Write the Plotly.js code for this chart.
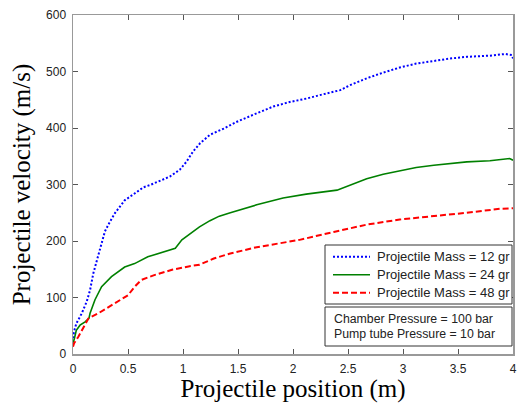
<!DOCTYPE html>
<html>
<head>
<meta charset="utf-8">
<script src="https://cdn.plot.ly/plotly-3.0.1.min.js"></script>
<style>
html,body{margin:0;padding:0;background:#fff;}
#chart{width:517px;height:403px;}
</style>
</head>
<body>
<div id="chart"></div>
<script>
// Data
const seriesNames = ["Projectile Mass = 12 gr", "Projectile Mass = 24 gr", "Projectile Mass = 48 gr"];
const seriesColors = ["#0000ff", "#008000", "#ff0000"];
const seriesDash = ["2px,2px", "solid", "6px,3px"];

const xBlue = [0, 0.01, 0.03, 0.08, 0.125, 0.155, 0.185, 0.23, 0.26, 0.29, 0.33, 0.38, 0.47, 0.52, 0.56, 0.64, 0.70, 0.88, 0.97, 1.03, 1.09, 1.155, 1.245, 1.37, 1.49, 1.67, 1.82, 1.97, 2.12, 2.28, 2.43, 2.52, 2.67, 2.82, 2.97, 3.12, 3.28, 3.43, 3.58, 3.79, 3.93, 3.99, 4.0];
const yBlue = [28, 40, 54, 72, 93, 113, 143, 175, 200, 217, 232, 249, 272, 278, 284, 295, 299, 314, 326, 340, 358, 373, 388, 399, 411, 426, 438, 446, 452, 460, 467, 476, 488, 498, 507, 514, 519, 523, 526, 528, 531, 529, 523];

const xGreen = [0, 0.01, 0.03, 0.064, 0.11, 0.145, 0.155, 0.2, 0.26, 0.35, 0.47, 0.56, 0.68, 0.84, 0.93, 0.99, 1.06, 1.15, 1.245, 1.33, 1.43, 1.67, 1.91, 2.12, 2.40, 2.52, 2.61, 2.67, 2.82, 2.97, 3.12, 3.28, 3.43, 3.58, 3.79, 3.97, 4.0];
const yGreen = [20, 25, 42, 51, 57, 63, 72, 96, 119, 137, 154, 160, 172, 182, 187, 202, 212, 225, 236, 244, 250, 264, 276, 283, 290, 299, 305, 310, 318, 324, 330, 334, 337, 340, 342, 346, 343];

const xRed = [0, 0.01, 0.05, 0.094, 0.14, 0.23, 0.32, 0.44, 0.50, 0.56, 0.62, 0.745, 0.90, 1.05, 1.15, 1.28, 1.43, 1.67, 1.91, 2.06, 2.37, 2.61, 2.67, 2.97, 3.28, 3.58, 3.88, 4.0];
const yRed = [13, 19, 31, 48, 63, 72, 83, 98, 104, 119, 131, 140, 149, 155, 158, 169, 178, 189, 197, 202, 216, 226, 229, 238, 244, 250, 257, 258];

const xTicks = [0, 0.5, 1, 1.5, 2, 2.5, 3, 3.5, 4];
const xTickLabels = ["0", "0.5", "1", "1.5", "2", "2.5", "3", "3.5", "4"];
const yTicks = [0, 100, 200, 300, 400, 500, 600];
const yTickLabels = ["0", "100", "200", "300", "400", "500", "600"];

const noteLines = ["Chamber Pressure = 100 bar", "Pump tube Pressure = 10 bar"];

const xs = [xBlue, xGreen, xRed];
const ys = [yBlue, yGreen, yRed];
const traces = seriesNames.map((n, i) => ({
  x: xs[i], y: ys[i], name: n, mode: "lines", showlegend: false,
  line: {color: seriesColors[i], width: i === 1 ? 1.6 : 2, dash: seriesDash[i]}
}));

// plot area in pixels: left 73, right 513, top 15, bottom 354
const PX0 = 73, PW = 440, PY1 = 354, PH = 339;
const px = v => (v - PX0) / PW;
const py = v => (PY1 - v) / PH;

const sansFont = "Liberation Sans, Arial, sans-serif";
const serifFont = "Liberation Serif, Times New Roman, serif";
const shapes = [];
const annotations = [];

// legend box
shapes.push({type: "rect", xref: "paper", yref: "paper", x0: px(325), x1: px(512), y0: py(304), y1: py(245),
  line: {color: "#333333", width: 1}, fillcolor: "#ffffff", layer: "above"});
const rowY = [256.7, 274.8, 292.7];
seriesNames.forEach((n, i) => {
  shapes.push({type: "line", xref: "paper", yref: "paper", x0: px(333), x1: px(370), y0: py(rowY[i]), y1: py(rowY[i]),
    line: {color: seriesColors[i], width: i === 1 ? 1.6 : 2, dash: seriesDash[i]}, layer: "above"});
  annotations.push({xref: "paper", yref: "paper", x: px(375), y: py(rowY[i]), xanchor: "left", yanchor: "middle",
    showarrow: false, text: n, font: {family: sansFont, size: 13, color: "#222222"}});
});

// note box
shapes.push({type: "rect", xref: "paper", yref: "paper", x0: px(325), x1: px(512), y0: py(346), y1: py(307),
  line: {color: "#333333", width: 1}, fillcolor: "#ffffff", layer: "above"});
const noteY = [318.5, 333.5];
noteLines.forEach((t, i) => {
  annotations.push({xref: "paper", yref: "paper", x: px(332), y: py(noteY[i]), xanchor: "left", yanchor: "middle",
    showarrow: false, text: t, font: {family: sansFont, size: 12.3, color: "#222222"}});
});

const axisCommon = {
  showgrid: false, zeroline: false,
  showline: true, linecolor: "#999999", linewidth: 1.5, mirror: "ticks",
  ticks: "inside", ticklen: 5, tickcolor: "#555555", tickwidth: 1,
  tickfont: {family: sansFont, size: 12, color: "#222222"}
};

const layout = {
  width: 517, height: 403,
  margin: {l: 73, r: 4, t: 15, b: 49},
  paper_bgcolor: "#ffffff", plot_bgcolor: "#ffffff",
  showlegend: false,
  xaxis: Object.assign({}, axisCommon, {
    range: [0, 4], tickmode: "array", tickvals: xTicks, ticktext: xTickLabels,
    ticklabelstandoff: 3,
    title: {text: "Projectile position (m)", standoff: 4,
            font: {family: serifFont, size: 25, color: "#000000"}}
  }),
  yaxis: Object.assign({}, axisCommon, {
    range: [0, 600], tickmode: "array", tickvals: yTicks, ticktext: yTickLabels,
    ticklabelstandoff: 3,
    title: {text: "Projectile velocity (m/s)", standoff: 8,
            font: {family: serifFont, size: 25, color: "#000000"}}
  }),
  shapes: shapes,
  annotations: annotations
};

Plotly.newPlot("chart", traces, layout, {displayModeBar: false, staticPlot: true});
</script>
</body>
</html>
